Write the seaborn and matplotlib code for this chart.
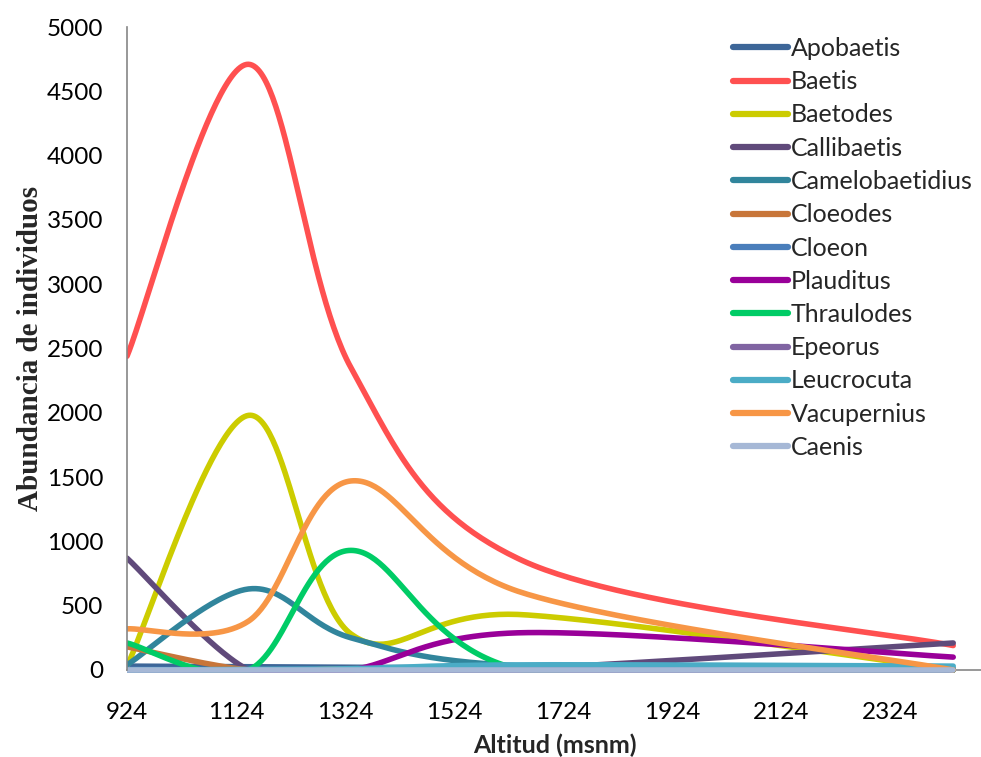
import numpy as np
import pandas as pd
import matplotlib
matplotlib.use("Agg")
import matplotlib.pyplot as plt
import seaborn as sns

# Sampling altitudes (m a.s.l.) and abundance of each genus at every station
altitudes = [924, 1147, 1335, 1650, 2440]
apobaetis = [30, 25, 20, 15, 10]
baetis = [2440, 4710, 2350, 850, 190]
baetodes = [30, 1980, 280, 430, 0]
callibaetis = [870, 0, 0, 10, 210]
camelobaetidius = [40, 630, 250, 30, 0]
cloeodes = [180, 0, 10, 0, 0]
cloeon = [5, 0, 0, 0, 0]
plauditus = [0, 0, 0, 290, 100]
thraulodes = [210, 0, 930, 0, 0]
epeorus = [0, 0, 0, 0, 0]
leucrocuta = [0, 5, 10, 40, 30]
vacupernius = [320, 380, 1470, 600, 0]
caenis = [0, 0, 0, 0, 0]

genera = ["Apobaetis", "Baetis", "Baetodes", "Callibaetis", "Camelobaetidius",
          "Cloeodes", "Cloeon", "Plauditus", "Thraulodes", "Epeorus",
          "Leucrocuta", "Vacupernius", "Caenis"]
series = [apobaetis, baetis, baetodes, callibaetis, camelobaetidius, cloeodes,
          cloeon, plauditus, thraulodes, epeorus, leucrocuta, vacupernius, caenis]
colors = ["#3d6698", "#ff5050", "#cccc00", "#604a7b", "#31859c", "#c8763a",
          "#4a7ebb", "#990099", "#00cc66", "#8064a2", "#4bacc6", "#f79646",
          "#a6b8d6"]


def smooth_curve(xs, ys, steps=60):
    """Piecewise cubic Bezier through the points (smoothed-line style)."""
    p = np.column_stack([xs, ys]).astype(float)
    n = len(p)
    t = np.linspace(0, 1, steps)[:, None]
    parts = []
    for i in range(n - 1):
        p0, p1, p2, p3 = p[max(i - 1, 0)], p[i], p[i + 1], p[min(i + 2, n - 1)]
        c1 = p1 + (p2 - p0) / 6
        c2 = p2 - (p3 - p1) / 6
        seg = ((1 - t) ** 3) * p1 + 3 * ((1 - t) ** 2) * t * c1 \
            + 3 * (1 - t) * t ** 2 * c2 + t ** 3 * p2
        parts.append(seg if i == 0 else seg[1:])
    return np.vstack(parts)


rows = []
for name, vals in zip(genera, series):
    curve = smooth_curve(altitudes, vals)
    for k, (x, y) in enumerate(curve):
        rows.append({"Altitud": x, "Abundancia": y, "Género": name, "k": k})
df = pd.DataFrame(rows)

sns.set_theme(style="white")
plt.rcParams["font.family"] = ["Lato", "DejaVu Sans"]

fig = plt.figure(figsize=(9.81, 7.57), dpi=100)
# plot area: y=0 at 670 px, y=5000 at 27 px; a small margin below zero
y_bottom_px = 673.2
ax = fig.add_axes([127 / 981, (757 - y_bottom_px) / 757,
                   (999 - 127) / 981, (y_bottom_px - 27) / 757])

sns.lineplot(data=df, x="Altitud", y="Abundancia", hue="Género",
             hue_order=genera, palette=colors, sort=False, estimator=None,
             units="Género", linewidth=4, ax=ax, legend=True)

for line in ax.lines:
    line.set_solid_capstyle("round")
    line.set_solid_joinstyle("round")

ax.set_xlim(924, 2524)
ax.set_ylim(-25, 5000)
ax.set_xticks(list(range(924, 2325, 200)))
ax.set_yticks(list(range(0, 5001, 500)))
ax.tick_params(axis="both", length=0, labelsize=17.5, colors="black")
ax.tick_params(axis="y", pad=17)
ax.tick_params(axis="x", pad=23)

for side in ("top", "right"):
    ax.spines[side].set_visible(False)
for side in ("left", "bottom"):
    ax.spines[side].set_color("#868686")
    ax.spines[side].set_linewidth(1.2)
ax.spines["bottom"].set_position(("data", 0))
ax.spines["left"].set_bounds(0, 5000)
ax.spines["bottom"].set_zorder(0.5)

ax.set_xlabel("Altitud (msnm)", fontsize=18, fontweight="bold")
ax.xaxis.set_label_coords((555 - 127) / (999 - 127),
                          -(745 - y_bottom_px) / (y_bottom_px - 27),
                          transform=ax.transAxes)
ax.xaxis.label.set_va("center")
ax.set_ylabel("Abundancia de individuos", fontsize=21, fontweight="bold",
              family=["Liberation Serif", "DejaVu Serif"])
ax.yaxis.set_label_coords(-(127 - 30) / (999 - 127),
                          ((y_bottom_px - 348) / (y_bottom_px - 27)),
                          transform=ax.transAxes)
ax.yaxis.label.set_va("center")

old = ax.get_legend()
handles = list(old.legend_handles)
labels = [t.get_text() for t in old.get_texts()]
old.remove()
for h in handles:
    h.set_linewidth(4.5)
    h.set_solid_capstyle("round")
leg = fig.legend(handles, labels, loc="upper left",
                 bbox_to_anchor=(733 / 981, 1 - 37 / 757), frameon=False,
                 fontsize=18, handlelength=2.2, handletextpad=0.12,
                 labelspacing=0.41, borderpad=0, borderaxespad=0)

fig.savefig("out.png", dpi=100)
